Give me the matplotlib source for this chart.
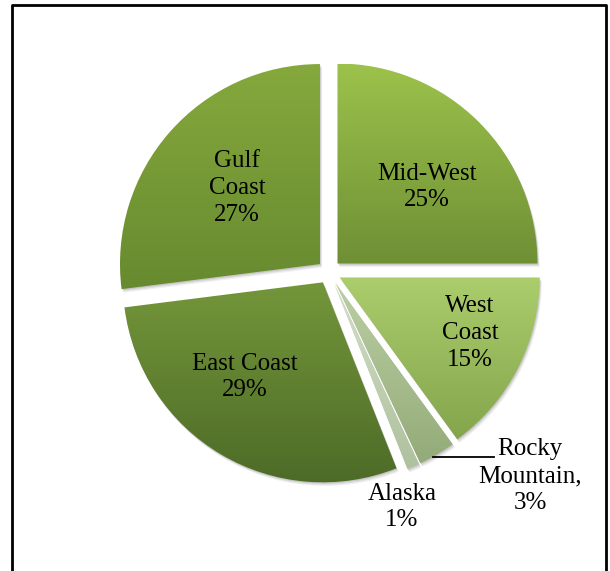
import numpy as np
import matplotlib
matplotlib.use("Agg")
import matplotlib.pyplot as plt
from matplotlib.colors import LinearSegmentedColormap
from matplotlib.patches import Wedge
import matplotlib.lines as mlines

# ---- data ----
regions = ["Mid-West", "West Coast", "Rocky Mountain", "Alaska", "East Coast", "Gulf Coast"]
shares = [25, 15, 3, 1, 29, 27]
label_text = ["Mid-West\n25%", "West\nCoast\n15%", "Rocky\nMountain,\n3%", "Alaska\n1%",
              "East Coast\n29%", "Gulf\nCoast\n27%"]
top_colors = ["#9cc24b", "#abcd6c", "#bccfa4", "#d3dfc6", "#74963a", "#86a93d"]
bottom_colors = ["#6f8f35", "#84a54c", "#93ab78", "#aec19d", "#4d6b27", "#678a30"]

W, H = 610, 571
cx, cy, R = 329, 272, 200  # pixel geometry

fig = plt.figure(figsize=(W / 100, H / 100), dpi=100)
fig.patch.set_facecolor("white")
ax = fig.add_axes([0, 0, 1, 1])

explode = [0.06] * len(shares)
wedges, _ = ax.pie(shares, startangle=90, counterclock=False, explode=explode,
                   radius=1.0, center=(0, 0), frame=True,
                   wedgeprops=dict(linewidth=0, alpha=0))
ax.set_xlim(-cx / R, (W - cx) / R)
ax.set_ylim(-(H - cy) / R, cy / R)
ax.set_aspect("equal")
ax.axis("off")

for i, w in enumerate(wedges):
    # soft shadow
    for k, a in [(0.018, 0.06), (0.012, 0.08), (0.006, 0.10)]:
        sh = Wedge((w.center[0] + k * 0.6, w.center[1] - k), w.r, w.theta1, w.theta2,
                   facecolor="black", edgecolor="none", alpha=a, zorder=1)
        ax.add_patch(sh)
    # gradient fill clipped to wedge
    path = w.get_path().transformed(w.get_patch_transform())
    verts = path.vertices
    x0, x1 = verts[:, 0].min(), verts[:, 0].max()
    y0, y1 = verts[:, 1].min(), verts[:, 1].max()
    cmap = LinearSegmentedColormap.from_list(f"g{i}", [bottom_colors[i], top_colors[i]])
    grad = np.linspace(0, 1, 256).reshape(-1, 1)
    im = ax.imshow(grad, cmap=cmap, origin="lower", extent=(x0, x1, y0, y1),
                   aspect="auto", zorder=2, interpolation="bilinear")
    clipw = Wedge(w.center, w.r, w.theta1, w.theta2, transform=ax.transData)
    im.set_clip_path(clipw)
ax.set_xlim(-cx / R, (W - cx) / R)
ax.set_ylim(-(H - cy) / R, cy / R)
ax.set_aspect("equal")


def px(x, y):
    return ((x - cx) / R, (cy - y) / R)

label_pos = [px(427, 187), px(470, 333), px(530, 476), px(402, 507), px(245, 377), px(237, 188)]
for txt, (lx, ly) in zip(label_text, label_pos):
    ax.text(lx, ly, txt, ha="center", va="center", fontsize=18, family="Liberation Serif",
            linespacing=1.27, color="black", zorder=5)

# leader line for Rocky Mountain
a0 = px(433, 457)
a1 = px(494, 457)
ax.add_line(mlines.Line2D([a0[0], a1[0]], [a0[1], a1[1]], color="black", lw=1.3, zorder=5))

# frame
fx0, fx1, fy0 = 12 / W, 606 / W, 1 - 5 / H
fig.add_artist(mlines.Line2D([fx0, fx0, fx1, fx1], [0, fy0, fy0, 0], transform=fig.transFigure,
                             color="black", lw=2))

fig.savefig("out.png", dpi=100, facecolor="white")
